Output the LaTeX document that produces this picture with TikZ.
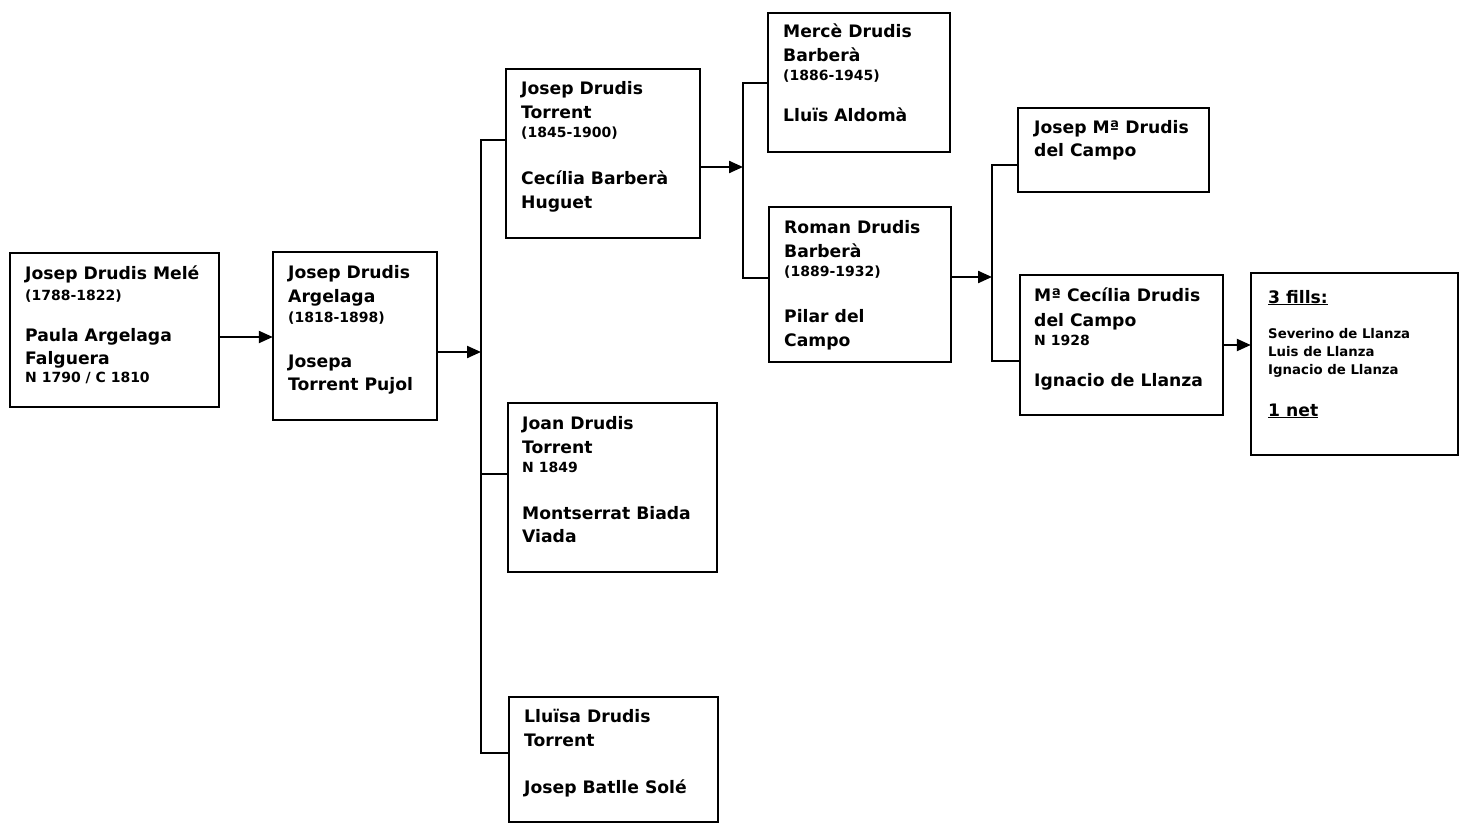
\documentclass[tikz,border=0pt]{standalone}
\usepackage{fontspec}
\setmainfont{DejaVu Sans}
\usetikzlibrary{arrows.meta}
\tikzset{
  box/.style={draw, line width=2.2pt, inner sep=0pt},
  big/.style={font=\fontsize{17.2}{20}\selectfont\bfseries, inner sep=0pt, anchor=base west},
  sm/.style={font=\fontsize{14}{16}\selectfont\bfseries, inner sep=0pt, anchor=base west},
  kid/.style={font=\fontsize{13.3}{15}\selectfont\bfseries, inner sep=0pt, anchor=base west},
  ln/.style={line width=2.2pt},
  arr/.style={line width=2.2pt, -{Triangle[length=14pt,width=12pt]}}
}
\newcommand\bx[5]{\path[box] (#2,#3) rectangle (#4,#5); \node[inner sep=0pt, minimum width=#4pt-#2pt, minimum height=#5pt-#3pt] (#1) at ({(#2+#4)/2},{(#3+#5)/2}) {};}
\begin{document}
\begin{tikzpicture}[x=1pt,y=-1pt]
\useasboundingbox (0,0) rectangle (1470,832);
% boxes
\bx{b1}{10}{253}{219}{407}
\bx{b2}{273}{252}{437}{420}
\bx{b3}{506}{69}{700}{238}
\bx{b4}{508}{403}{717}{572}
\bx{b5}{509}{697}{718}{822}
\bx{b6}{768}{13}{950}{152}
\bx{b7}{769}{207}{951}{362}
\bx{b8}{1018}{108}{1209}{192}
\bx{b9}{1020}{275}{1223}{415}
\bx{b10}{1251}{273}{1458}{455}
% texts
\node[big] (t1a) at (25,279) {Josep Drudis Melé};
\node[sm]  (t1b) at (25,300) {(1788-1822)};
\node[big] (t1c) at (25,341) {Paula Argelaga};
\node[big] (t1d) at (25,364) {Falguera};
\node[sm]  (t1e) at (25,382) {N 1790 / C 1810};

\node[big] (t2a) at (288,278) {Josep Drudis};
\node[big] (t2b) at (288,302) {Argelaga};
\node[sm]  (t2c) at (288,322) {(1818-1898)};
\node[big] (t2d) at (288,367) {Josepa};
\node[big] (t2e) at (288,390) {Torrent Pujol};

\node[big] (t3a) at (521,95) {Josep Drudis};
\node[big] (t3b) at (521,119) {Torrent};
\node[sm]  (t3c) at (521,138) {(1845-1900)};
\node[big] (t3d) at (521,185) {Cecília Barberà};
\node[big] (t3e) at (521,208) {Huguet};

\node[big] (t4a) at (522,429) {Joan Drudis};
\node[big] (t4b) at (522,453) {Torrent};
\node[sm]  (t4c) at (522,472) {N 1849};
\node[big] (t4d) at (522,519) {Montserrat Biada};
\node[big] (t4e) at (522,542) {Viada};

\node[big] (t5a) at (524,722) {Lluïsa Drudis};
\node[big] (t5b) at (524,746) {Torrent};
\node[big] (t5c) at (524,793) {Josep Batlle Solé};

\node[big] (t6a) at (783,38) {Mercè Drudis};
\node[big] (t6b) at (783,62) {Barberà};
\node[sm]  (t6c) at (783,81) {(1886-1945)};
\node[big] (t6d) at (783,122) {Lluïs Aldomà};

\node[big] (t7a) at (784,233) {Roman Drudis};
\node[big] (t7b) at (784,257) {Barberà};
\node[sm]  (t7c) at (784,276) {(1889-1932)};
\node[big] (t7d) at (784,322) {Pilar del};
\node[big] (t7e) at (784,346) {Campo};

\node[big] (t8a) at (1034,134) {Josep Mª Drudis};
\node[big] (t8b) at (1034,157) {del Campo};

\node[big] (t9a) at (1034,301) {Mª Cecília Drudis};
\node[big] (t9b) at (1034,326) {del Campo};
\node[sm]  (t9c) at (1034,345) {N 1928};
\node[big] (t9d) at (1034,386) {Ignacio de Llanza};

\node[big] (t10a) at (1268,303) {\underline{3 fills:}};
\node[kid] (t10b) at (1268,338) {Severino de Llanza};
\node[kid] (t10c) at (1268,356) {Luis de Llanza};
\node[kid] (t10d) at (1268,374) {Ignacio de Llanza};
\node[big] (t10e) at (1268,416) {\underline{1 net}};
% connectors
\coordinate (u1) at (481,140);
\coordinate (u1m) at (481,474);
\coordinate (u1b) at (481,753);
\coordinate (u2) at (743,83);
\coordinate (u2b) at (743,278);
\coordinate (u3) at (992,165);
\coordinate (u3b) at (992,361);

\draw[arr] (b1.east |- 0,337) -- (b2.west |- 0,337);
\draw[arr] (b2.east |- 0,352) -- (u1 |- 0,352);
\draw[ln] (b3.west |- u1) -- (u1) -- (u1b) -- (b5.west |- u1b);
\draw[ln] (u1m) -- (b4.west |- u1m);
\draw[arr] (b3.east |- 0,167) -- (u2 |- 0,167);
\draw[ln] (b6.west |- u2) -- (u2) -- (u2b) -- (b7.west |- u2b);
\draw[arr] (b7.east |- 0,277) -- (u3 |- 0,277);
\draw[ln] (b8.west |- u3) -- (u3) -- (u3b) -- (b9.west |- u3b);
\draw[arr] (b9.east |- 0,345) -- (b10.west |- 0,345);
\end{tikzpicture}
\end{document}
